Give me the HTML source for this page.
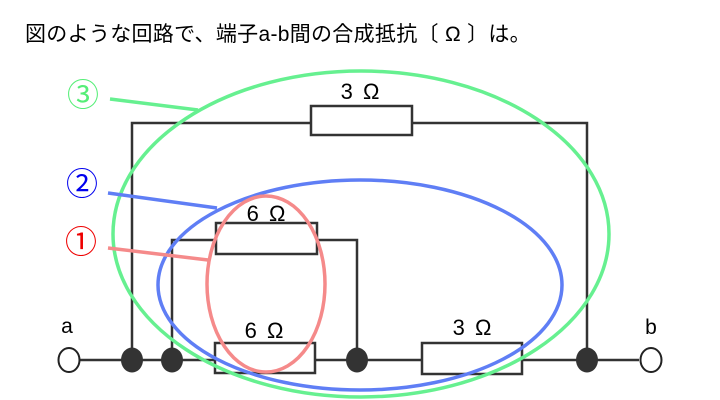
<!DOCTYPE html>
<html><head><meta charset="utf-8"><style>
body{margin:0;background:#fff;width:720px;height:400px;overflow:hidden}
svg{display:block}
text{font-family:"Liberation Sans","Noto Sans CJK JP",sans-serif}
</style></head><body>
<svg width="720" height="400" viewBox="0 0 720 400" xmlns="http://www.w3.org/2000/svg">
<text x="25" y="41" font-size="21" fill="#000" letter-spacing="0.3">図のような回路で、端子a-b間の合成抵抗〔 Ω 〕は。</text>
<g stroke="#333" stroke-width="2.5" fill="none">
<polyline points="132,360 132,123 311,123"/>
<polyline points="412,123 587,123 587,360"/>
<rect x="311" y="106" width="101" height="29" fill="#fff"/>
<polyline points="172,360 172,240 216,240"/>
<polyline points="317,240 357,240 357,360"/>
<rect x="216" y="223" width="101" height="31" fill="#fff"/>
<line x1="80" y1="360" x2="215" y2="360"/>
<line x1="315" y1="360" x2="422" y2="360"/>
<line x1="522" y1="360" x2="639" y2="360"/>
<rect x="215" y="343" width="100" height="30" fill="#fff"/>
<rect x="422" y="343" width="100" height="31" fill="#fff"/>
</g>
<g fill="#333">
<ellipse cx="132" cy="360" rx="11" ry="12.5"/>
<ellipse cx="172" cy="360" rx="11" ry="12.5"/>
<ellipse cx="357" cy="360" rx="11" ry="12.5"/>
<ellipse cx="587" cy="360" rx="11" ry="12.5"/>
</g>
<ellipse cx="69" cy="360" rx="10.5" ry="12" fill="#fff" stroke="#222" stroke-width="2"/>
<ellipse cx="651" cy="360" rx="10.5" ry="12" fill="#fff" stroke="#222" stroke-width="2"/>
<g font-size="22" fill="#000" text-anchor="middle" letter-spacing="2">
<text x="361" y="99">3 Ω</text>
<text x="267" y="221">6 Ω</text>
<text x="265" y="338">6 Ω</text>
<text x="473" y="335">3 Ω</text>
</g>
<g font-size="21" fill="#000" text-anchor="middle">
<text x="67" y="333">a</text>
<text x="651" y="334">b</text>
</g>
<g fill="none" stroke-width="3.5">
<ellipse cx="361" cy="234" rx="248" ry="163" stroke="#66f090"/>
<line x1="110" y1="99" x2="198" y2="110" stroke="#66f090"/>
<ellipse cx="360" cy="285" rx="202" ry="105" stroke="#5f7ef5"/>
<line x1="108" y1="193" x2="217" y2="208" stroke="#5f7ef5"/>
<ellipse cx="266" cy="284" rx="59" ry="88" stroke="#f58a8a"/>
<line x1="108" y1="248" x2="208" y2="260" stroke="#f58a8a"/>
</g>
<g font-size="32" text-anchor="middle">
<text x="83" y="106" fill="#55ee77">③</text>
<text x="82" y="195" fill="#0000ee">②</text>
<text x="81" y="253" fill="#ee0000">①</text>
</g>
</svg>
</body></html>
